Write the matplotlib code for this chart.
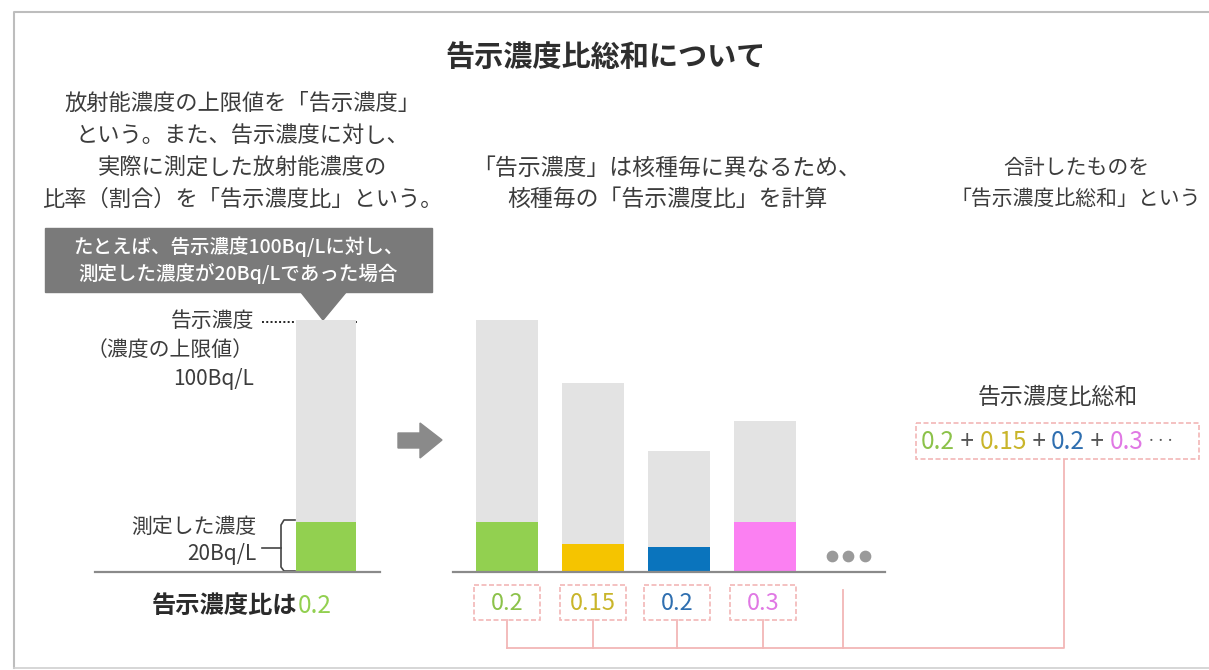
import matplotlib
matplotlib.use("Agg")
import matplotlib.pyplot as plt
from matplotlib.patches import Rectangle, Polygon

plt.rcParams['font.family'] = ['Noto Sans CJK JP', 'DejaVu Sans']

W, H = 1209, 670

# data
example_limit = 100      # 告示濃度 (Bq/L)
example_measured = 20    # 測定した濃度 (Bq/L)
example_ratio = "0.2"

nuclide_limits = [100, 75, 48, 60]       # relative heights of gray bars
nuclide_measured = [20, 11, 10, 20]      # coloured part of each bar
nuclide_ratios = ["0.2", "0.15", "0.2", "0.3"]
nuclide_colors = ["#92d050", "#f5c400", "#0a74bd", "#fb80f2"]
ratio_text_colors = ["#8cc24a", "#c9b52a", "#2f6fb0", "#e078e4"]

limit_gray = "#e3e3e3"
text_col = "#3c3c3c"
link_col = "#f2b6b6"

fig = plt.figure(figsize=(W / 100, H / 100), dpi=100)

# overlay axes in pixel coordinates for text and decorations
ov = fig.add_axes([0, 0, 1, 1])
ov.set_xlim(0, W)
ov.set_ylim(H, 0)
ov.axis('off')


def px_axes(x0, y0, x1, y1):
    a = fig.add_axes([x0 / W, 1 - y1 / H, (x1 - x0) / W, (y1 - y0) / H])
    a.axis('off')
    a.patch.set_alpha(0)
    return a


# frame
ov.plot([14, 14, W + 5], [668, 12, 12], color="#bdbdbd", lw=1.5)
ov.plot([14, W + 5], [668, 668], color="#d0d0d0", lw=1.2)

ov.text(606, 57, "告示濃度比総和について", ha='center', va='center',
        fontsize=21, fontweight='bold', color="#2e2e2e")

left_lines = ["放射能濃度の上限値を「告示濃度」",
              "という。また、告示濃度に対し、",
              "実際に測定した放射能濃度の",
              "比率（割合）を「告示濃度比」という。"]
for i, s in enumerate(left_lines):
    ov.text(242, 103 + i * 32, s, ha='center', va='center', fontsize=16, color=text_col)

mid_lines = ["「告示濃度」は核種毎に異なるため、", "核種毎の「告示濃度比」を計算"]
for i, s in enumerate(mid_lines):
    ov.text(667, 168 + i * 31, s, ha='center', va='center', fontsize=16.5, color=text_col)

right_lines = ["合計したものを", "「告示濃度比総和」という"]
for i, s in enumerate(right_lines):
    ov.text(1076, 168 + i * 31, s, ha='center', va='center', fontsize=15, color=text_col)

# gray call-out box
ov.add_patch(Rectangle((45, 228), 387, 64, color="#7a7a7a", zorder=2))
ov.add_patch(Polygon([[300, 291], [347, 291], [323, 320]], color="#7a7a7a", zorder=2))
ov.text(238, 247, "たとえば、告示濃度100Bq/Lに対し、", ha='center', va='center',
        fontsize=14, color="white", fontweight='medium', zorder=3)
ov.text(238, 273, "測定した濃度が20Bq/Lであった場合", ha='center', va='center',
        fontsize=14, color="white", fontweight='medium', zorder=3)

# left example bar
axl = px_axes(95, 320, 380, 572)
axl.set_xlim(-(326 - 95) / 60, (380 - 326) / 60)
axl.set_ylim(0, 100)
axl.bar([0], [example_limit], width=1, color=limit_gray)
axl.bar([0], [example_measured], width=1, color=nuclide_colors[0])
axl.axhline(0, color="#8a8a8a", lw=1.6, clip_on=False)

ov.plot([262, 357], [322, 322], ls=(0, (1, 1.2)), color="#222", lw=1.4)
ov.text(254, 321, "告示濃度", ha='right', va='center', fontsize=15, color=text_col)
ov.text(254, 350, "（濃度の上限値）", ha='right', va='center', fontsize=15, color=text_col)
ov.text(254, 379, "100Bq/L", ha='right', va='center', fontsize=15, color=text_col)
ov.text(256, 527, "測定した濃度", ha='right', va='center', fontsize=15, color=text_col)
ov.text(256, 554, "20Bq/L", ha='right', va='center', fontsize=15, color=text_col)
# bracket
ov.plot([295, 284, 281, 281, 284, 295], [520, 520, 525, 567, 571, 571], color="#444", lw=1.2)
ov.plot([262, 281], [548, 548], color="#444", lw=1.2)

t = ov.text(225, 606, "告示濃度比は", ha='center', va='center', fontsize=17.5, color="#2a2a2a",
            fontweight='bold')
ov.annotate(example_ratio, xy=(1, 0.5), xycoords=t, va='center', ha='left',
            fontsize=17.5, color=nuclide_colors[0])

# arrow
ov.add_patch(Polygon([[398, 433], [420, 433], [420, 423], [442, 440], [420, 458],
                      [420, 448], [398, 448]], color="#8a8a8a"))

# nuclide bars
axm = px_axes(453, 320, 885, 572)
axm.set_xlim(-54 / 86, (885 - 507) / 86)
axm.set_ylim(0, 100)
pos = list(range(len(nuclide_limits)))
axm.bar(pos, nuclide_limits, width=0.72, color=limit_gray)
axm.bar(pos, nuclide_measured, width=0.72, color=nuclide_colors)
axm.axhline(0, color="#8a8a8a", lw=1.6, clip_on=False)
axm.scatter([3.78, 3.97, 4.16], [6.5, 6.5, 6.5], s=55, color="#9a9a9a")

# ratio boxes and connectors
centers = [507, 593, 677, 763]
for cx, r, c in zip(centers, nuclide_ratios, ratio_text_colors):
    ov.add_patch(Rectangle((cx - 33, 585), 66, 35, fill=False, ec=link_col, lw=1.2,
                           ls=(0, (3, 1.5))))
    ov.text(cx, 603, r, ha='center', va='center', fontsize=17, color=c)
    ov.plot([cx, cx], [620, 648], color=link_col, lw=1.3)
ov.plot([843, 843], [590, 648], color=link_col, lw=1.3)
ov.plot([centers[0], 1064, 1064], [648, 648, 460], color=link_col, lw=1.3)

# total
ov.text(1058, 398, "告示濃度比総和", ha='center', va='center', fontsize=16.5, color=text_col)
ov.add_patch(Rectangle((916, 423), 283, 36, fill=False, ec=link_col, lw=1.2,
                       ls=(0, (3, 1.5))))
parts = []
for i, (r, c) in enumerate(zip(nuclide_ratios, ratio_text_colors)):
    parts.append((r, c, 17.5))
    parts.append((" + " if i < len(nuclide_ratios) - 1 else " ···", "#555555", 17.5 if i < 3 else 12))
prev = ov.text(921, 442, parts[0][0], ha='left', va='center', fontsize=17.5, color=parts[0][1])
for s, c, fs in parts[1:]:
    prev = ov.annotate(s, xy=(1, 0.5), xycoords=prev, ha='left', va='center',
                       fontsize=fs, color=c)

fig.savefig("out.png", dpi=100)
